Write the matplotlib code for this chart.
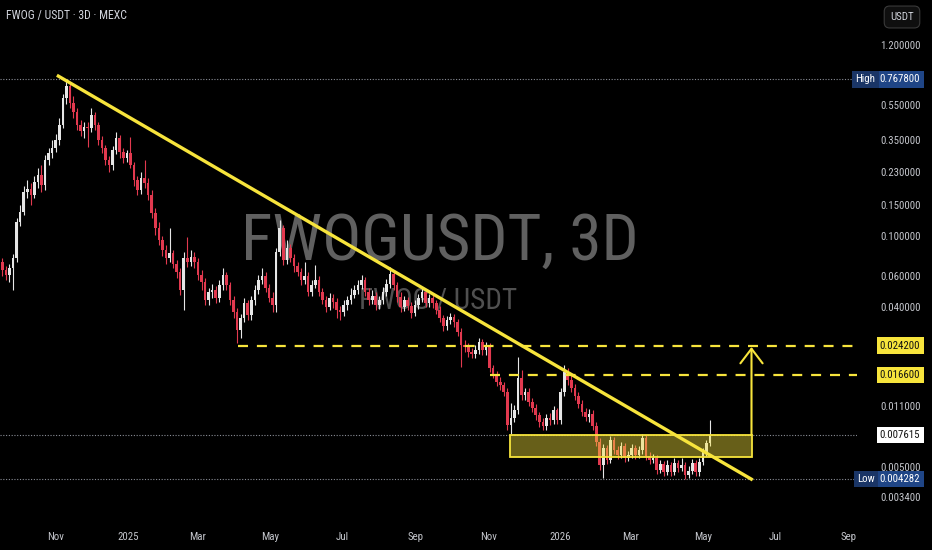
import matplotlib

matplotlib.use("Agg")
import matplotlib.dates as mdates
import matplotlib.pyplot as plt
import pandas as pd
from matplotlib import font_manager
from matplotlib.patches import Rectangle


# candle data, 3D bars (FWOG / USDT, MEXC)
first_open = 0.0716
closes = [
    0.0647, 0.0606, 0.0664, 0.0756, 0.121, 0.137, 0.178, 0.185, 0.171, 0.203,
    0.222, 0.195, 0.270, 0.295, 0.315, 0.350, 0.425, 0.603, 0.704, 0.565,
    0.503, 0.425, 0.393, 0.414, 0.409, 0.484, 0.425, 0.350, 0.315, 0.270,
    0.253, 0.307, 0.359, 0.299, 0.277, 0.295, 0.253, 0.208, 0.183, 0.213,
    0.200, 0.171, 0.135, 0.112, 0.0955, 0.0838, 0.0755, 0.0806, 0.0699, 0.0630,
    0.0499, 0.0755, 0.0717, 0.0766, 0.0717, 0.0606, 0.0553, 0.0438, 0.0486, 0.0499,
    0.0450, 0.0532, 0.0606, 0.0532, 0.0438, 0.0375, 0.0297, 0.0347, 0.0422, 0.0361,
    0.0438, 0.0499, 0.0568, 0.0598, 0.0512, 0.0450, 0.0411, 0.0817, 0.112, 0.0736,
    0.0862, 0.0755, 0.0681, 0.0630, 0.0568, 0.0598, 0.0486, 0.0532, 0.0568, 0.0486,
    0.0438, 0.0401, 0.0450, 0.0427, 0.0385, 0.0375, 0.0411, 0.0438, 0.0468, 0.0499,
    0.0532, 0.0568, 0.0486, 0.0438, 0.0462, 0.0411, 0.0438, 0.0486, 0.0539, 0.0614,
    0.0532, 0.0456, 0.0401, 0.0438, 0.0406, 0.0370, 0.0411, 0.0450, 0.0486, 0.0422,
    0.0450, 0.0422, 0.0385, 0.0347, 0.0313, 0.0338, 0.0352, 0.0330, 0.0289, 0.0244,
    0.0238, 0.0223, 0.0218, 0.0229, 0.0255, 0.0229, 0.0241, 0.0182, 0.0168, 0.0151,
    0.0145, 0.0133, 0.00865, 0.00947, 0.0105, 0.0159, 0.0128, 0.0133, 0.0117, 0.0108,
    0.00985, 0.00898, 0.00854, 0.00947, 0.00923, 0.0105, 0.00923, 0.0133, 0.0172, 0.0155,
    0.0140, 0.0126, 0.0113, 0.0102, 0.00960, 0.00997, 0.00854, 0.00693, 0.00515, 0.00641,
    0.00549, 0.00712, 0.00625, 0.00586, 0.00658, 0.00563, 0.00586, 0.00641, 0.00586, 0.00625,
    0.00731, 0.00578, 0.00549, 0.00563, 0.00483, 0.00521, 0.00470, 0.00515, 0.00470, 0.00528,
    0.00495, 0.00515, 0.00452, 0.00476, 0.00528, 0.00470, 0.00535, 0.00609, 0.00684, 0.007615,
]
highs = [
    0.0755, 0.0681, 0.0699, 0.0796, 0.127, 0.150, 0.192, 0.208, 0.200, 0.219,
    0.243, 0.253, 0.288, 0.315, 0.350, 0.378, 0.465, 0.635, 0.7678, 0.742,
    0.619, 0.530, 0.453, 0.441, 0.441, 0.530, 0.503, 0.441, 0.368, 0.328,
    0.284, 0.324, 0.388, 0.373, 0.315, 0.307, 0.363, 0.263, 0.219, 0.231,
    0.270, 0.213, 0.183, 0.145, 0.121, 0.101, 0.0895, 0.112, 0.0838, 0.0736,
    0.0664, 0.0817, 0.0994, 0.0838, 0.0817, 0.0755, 0.0647, 0.0583, 0.0512, 0.0539,
    0.0525, 0.0568, 0.0664, 0.0630, 0.0553, 0.0462, 0.0395, 0.0366, 0.0450, 0.0438,
    0.0462, 0.0532, 0.0606, 0.0664, 0.0630, 0.0539, 0.0486, 0.0862, 0.124, 0.116,
    0.0955, 0.0907, 0.0796, 0.0717, 0.0664, 0.0717, 0.0630, 0.0568, 0.0690, 0.0598,
    0.0512, 0.0462, 0.0480, 0.0474, 0.0450, 0.0406, 0.0438, 0.0462, 0.0512, 0.0532,
    0.0568, 0.0606, 0.0590, 0.0512, 0.0499, 0.0486, 0.0462, 0.0518, 0.0575, 0.0672,
    0.0647, 0.0553, 0.0486, 0.0462, 0.0456, 0.0427, 0.0438, 0.0474, 0.0512, 0.0499,
    0.0474, 0.0468, 0.0438, 0.0406, 0.0361, 0.0356, 0.0370, 0.0366, 0.0342, 0.0305,
    0.0261, 0.0250, 0.0235, 0.0244, 0.0268, 0.0264, 0.0254, 0.0250, 0.0189, 0.0175,
    0.0162, 0.0151, 0.0140, 0.0115, 0.0112, 0.0209, 0.0177, 0.0140, 0.0140, 0.0123,
    0.0113, 0.0102, 0.00947, 0.00997, 0.0101, 0.0111, 0.0108, 0.0140, 0.0189, 0.0182,
    0.0166, 0.0147, 0.0133, 0.0120, 0.0108, 0.0106, 0.0105, 0.00898, 0.00731, 0.00675,
    0.00667, 0.00750, 0.00740, 0.00658, 0.00693, 0.00684, 0.00617, 0.00675, 0.00667, 0.00658,
    0.00770, 0.00760, 0.00609, 0.00593, 0.00586, 0.00549, 0.00542, 0.00549, 0.00535, 0.00563,
    0.00549, 0.00563, 0.00535, 0.00508, 0.00556, 0.00549, 0.00563, 0.00641, 0.00712, 0.00923,
]
lows = [
    0.0598, 0.0568, 0.0553, 0.0499, 0.0717, 0.115, 0.132, 0.164, 0.150, 0.164,
    0.188, 0.178, 0.183, 0.253, 0.277, 0.299, 0.328, 0.409, 0.558, 0.530,
    0.465, 0.398, 0.368, 0.359, 0.320, 0.388, 0.398, 0.328, 0.295, 0.253,
    0.231, 0.237, 0.292, 0.277, 0.260, 0.263, 0.243, 0.192, 0.171, 0.173,
    0.188, 0.160, 0.127, 0.102, 0.0895, 0.0776, 0.0699, 0.0717, 0.0664, 0.0583,
    0.0468, 0.0385, 0.0672, 0.0681, 0.0664, 0.0568, 0.0499, 0.0411, 0.0411, 0.0450,
    0.0422, 0.0427, 0.0499, 0.0499, 0.0411, 0.0347, 0.0250, 0.0268, 0.0330, 0.0338,
    0.0338, 0.0411, 0.0474, 0.0539, 0.0486, 0.0427, 0.0375, 0.0375, 0.0776, 0.0690,
    0.0699, 0.0717, 0.0630, 0.0598, 0.0532, 0.0539, 0.0462, 0.0462, 0.0512, 0.0462,
    0.0416, 0.0375, 0.0385, 0.0395, 0.0347, 0.0338, 0.0356, 0.0385, 0.0416, 0.0450,
    0.0474, 0.0505, 0.0462, 0.0411, 0.0416, 0.0385, 0.0390, 0.0416, 0.0462, 0.0512,
    0.0499, 0.0427, 0.0375, 0.0380, 0.0385, 0.0347, 0.0356, 0.0390, 0.0427, 0.0401,
    0.0401, 0.0395, 0.0366, 0.0330, 0.0293, 0.0297, 0.0321, 0.0309, 0.0274, 0.0184,
    0.0223, 0.0209, 0.0206, 0.0206, 0.0218, 0.0215, 0.0215, 0.0172, 0.0159, 0.0143,
    0.0136, 0.0126, 0.00811, 0.00770, 0.00898, 0.00997, 0.0120, 0.0120, 0.0111, 0.0102,
    0.00923, 0.00843, 0.00811, 0.00811, 0.00865, 0.00876, 0.00876, 0.00876, 0.0126, 0.0145,
    0.0133, 0.0120, 0.0108, 0.00972, 0.00911, 0.00898, 0.00811, 0.00658, 0.00483, 0.00435,
    0.00521, 0.00528, 0.00593, 0.00556, 0.00563, 0.00535, 0.00542, 0.00563, 0.00556, 0.00563,
    0.00593, 0.00549, 0.00521, 0.00528, 0.00458, 0.00464, 0.00446, 0.00452, 0.00446, 0.00452,
    0.00470, 0.00476, 0.004282, 0.00435, 0.00458, 0.00446, 0.00446, 0.00515, 0.00578, 0.00658,
]
first_bar = "2024-09-17"

price_ticks = [1.2, 0.55, 0.35, 0.23, 0.15, 0.1, 0.06, 0.04, 0.011, 0.005, 0.0034]
month_ticks = ["2024-11-01", "2025-01-01", "2025-03-01", "2025-05-01", "2025-07-01", "2025-09-01",
               "2025-11-01", "2026-01-01", "2026-03-01", "2026-05-01", "2026-07-01", "2026-09-01"]
month_labels = ["Nov", "2025", "Mar", "May", "Jul", "Sep", "Nov", "2026", "Mar", "May", "Jul", "Sep"]

high_price = 0.7678
low_price = 0.004282
last_price = 0.007615
resistances = [(0.0242, "2025-04-04"), (0.0166, "2025-11-02")]
trend = [("2024-11-02", 0.81), ("2026-06-12", 0.00424)]
zone = ("2025-11-19", "2026-06-11", 0.0057, 0.0076)
target = 0.0238

view_start, view_end = "2024-09-15", "2026-09-08"
price_min, price_max = 0.002521, 2.151

BG = "#000000"
UP = "#e6e6e6"
DOWN = "#e2394f"
YELLOW = "#f7e43c"
GREY_TXT = "#c4c6cc"

names = {f.name for f in font_manager.fontManager.ttflist}
narrow = next((n for n in ["Liberation Sans Narrow", "Roboto Condensed", "DejaVu Sans"] if n in names), "DejaVu Sans")
plt.rcParams["font.family"] = [narrow, "DejaVu Sans"]

dates = pd.date_range(first_bar, periods=len(closes), freq="3D")
x = mdates.date2num(dates)
opens = [first_open] + closes[:-1]

fig = plt.figure(figsize=(9.32, 5.5), dpi=100, facecolor=BG)
ax = fig.add_axes([0, 30 / 550, 857 / 932, 520 / 550], facecolor=BG)
ax.set_yscale("log")
ax.set_ylim(price_min, price_max)
ax.set_xlim(mdates.date2num(pd.Timestamp(view_start)), mdates.date2num(pd.Timestamp(view_end)))

# watermark
ax.text(0.513, 0.535, "FWOGUSDT, 3D", transform=ax.transAxes, ha="center", va="center",
        fontsize=47, color="#606060", zorder=0)
ax.text(0.511, 0.421, "FWOG / USDT", transform=ax.transAxes, ha="center", va="center",
        fontsize=21, color="#505050", zorder=0)

# candles
colors = [UP if c >= o else DOWN for o, c in zip(opens, closes)]
ax.vlines(x, lows, highs, colors=colors, lw=0.8, zorder=2)
bottoms = [min(o, c) for o, c in zip(opens, closes)]
heights = [max(abs(c - o), min(o, c) * 0.012) for o, c in zip(opens, closes)]
ax.bar(x, heights, bottom=bottoms, width=2.2, color=colors, linewidth=0, zorder=3)

# reference dotted lines
for p in [high_price, last_price, low_price]:
    ax.axhline(p, color="#8a8d96", lw=0.8, ls=(0, (1, 1.5)), zorder=1)

# resistance dashes
xmax = ax.get_xlim()[1]
for level, start in resistances:
    ax.hlines(level, mdates.date2num(pd.Timestamp(start)), xmax, colors=YELLOW, lw=1.6,
              linestyles=(0, (4.5, 4)), zorder=4)

# demand zone
z0, z1 = mdates.date2num(pd.Timestamp(zone[0])), mdates.date2num(pd.Timestamp(zone[1]))
ax.add_patch(Rectangle((z0, zone[2]), z1 - z0, zone[3] - zone[2], facecolor=YELLOW, alpha=0.42,
                       edgecolor="none", zorder=4))
ax.add_patch(Rectangle((z0, zone[2]), z1 - z0, zone[3] - zone[2], facecolor="none",
                       edgecolor=YELLOW, lw=1.3, zorder=5))

# trend line
tx = [mdates.date2num(pd.Timestamp(d)) for d, _ in trend]
ty = [p for _, p in trend]
ax.plot(tx, ty, color=YELLOW, lw=2.4, solid_capstyle="butt", zorder=6)

# breakout arrow
ax.annotate("", xy=(z1, target), xytext=(z1, zone[3]),
            arrowprops=dict(arrowstyle="->,head_length=1.05,head_width=0.8", color=YELLOW, lw=1.5,
                            mutation_scale=10, shrinkA=0, shrinkB=0), zorder=6)

# axes styling
for s in ax.spines.values():
    s.set_visible(False)
ax.yaxis.tick_right()
ax.set_yticks(price_ticks)
ax.set_yticklabels([f"{p:.6f}" for p in price_ticks])
ax.yaxis.set_minor_locator(matplotlib.ticker.NullLocator())
ax.tick_params(axis="y", length=0, pad=31.5, labelsize=7.8, labelcolor=GREY_TXT)
for lab in ax.get_yticklabels():
    lab.set_horizontalalignment("center")
ax.set_xticks([mdates.date2num(pd.Timestamp(d)) for d in month_ticks])
ax.set_xticklabels(month_labels)
ax.tick_params(axis="x", length=0, pad=9, labelsize=7.8, labelcolor=GREY_TXT)

# price badges on the axis
ytr = ax.get_yaxis_transform()


def badge(xa, price, text, fc, tc):
    ax.text(xa, price, text, transform=ytr, ha="center", va="center", fontsize=7.8, color=tc,
            clip_on=False, zorder=10,
            bbox=dict(boxstyle="square,pad=0.3", fc=fc, ec="none"))


badge(1.0502, high_price, f"{high_price:.6f}", "#1f4586", "white")
badge(1.0099, high_price, "High", "#1a3566", "white")
badge(1.0502, resistances[0][0], f"{resistances[0][0]:.6f}", YELLOW, "#111111")
badge(1.0502, resistances[1][0], f"{resistances[1][0]:.6f}", YELLOW, "#111111")
badge(1.0502, last_price, f"{last_price:.6f}", "white", "#111111")
badge(1.0502, low_price, f"{low_price:.6f}", "#1f4586", "white")
badge(1.0105, low_price, "Low", "#1a3566", "white")

# header and currency button
fig.text(6 / 932, 1 - 16 / 550, "FWOG / USDT · 3D · MEXC", ha="left", va="center", fontsize=8.5,
         color="#d1d4dc")
fig.text(902 / 932, 1 - 17 / 550, "USDT", ha="center", va="center", fontsize=7.8, color="#d1d4dc",
         bbox=dict(boxstyle="round,pad=0.55,rounding_size=0.5", fc="#0f0f0f", ec="#3a3a3a", lw=0.8))

fig.savefig("out.png", dpi=100, facecolor=BG)
